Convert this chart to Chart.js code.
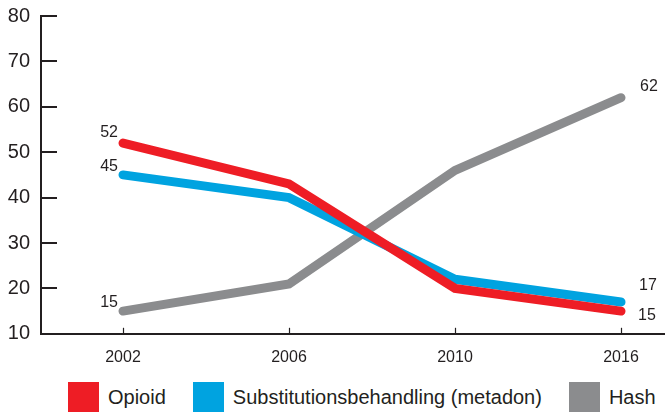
<!DOCTYPE html>
<html>
<head>
<meta charset="utf-8">
<script src="https://cdn.jsdelivr.net/npm/chart.js@4/dist/chart.umd.min.js"></script>
<style>
  html, body { margin: 0; padding: 0; background: #fff; }
  body { width: 665px; height: 412px; position: relative; overflow: hidden; font-family: "Liberation Sans", Arial, sans-serif; }
  #wrap { position: absolute; left: 0; top: 0; width: 665px; height: 381px; }
  #legend { position: absolute; left: 68px; top: 382px; display: flex; align-items: center; height: 30px; white-space: nowrap; width: 640px; }
  .item { display: flex; align-items: center; margin-right: 27px; font-size: 20px; color: #231f20; flex-shrink: 0; }
  .box { width: 31px; height: 30px; margin-right: 9px; }
</style>
</head>
<body>
<div id="wrap"><canvas id="chart"></canvas></div>
<div id="legend"></div>
<script>
const years = ["2002", "2006", "2010", "2016"];
const opioid = [52, 43, 20, 15];
const metadon = [45, 40, 22, 17];
const hash = [15, 21, 46, 62];
const yTicks = [10, 20, 30, 40, 50, 60, 70, 80];

const ink = "#231f20";
const font = "Liberation Sans, Arial, sans-serif";

// where the value labels sit next to first / last point
const labelPos = [
  { first: [-5, -11], last: [17, 4] },
  { first: [-5, -8], last: [18, -16] },
  { first: [-5, -9], last: [19, -11] },
];

function pts(arr) {
  return arr.map((v, i) => ({ x: i, y: v }));
}

const ds = [
  { label: "Opioid", data: pts(opioid), borderColor: "#ee1d25" },
  { label: "Substitutionsbehandling (metadon)", data: pts(metadon), borderColor: "#00a3e0" },
  { label: "Hash", data: pts(hash), borderColor: "#8b8c8e" },
].map((d) => ({
  ...d,
  backgroundColor: d.borderColor,
  borderWidth: 9,
  borderCapStyle: "round",
  borderJoinStyle: "miter",
  pointRadius: 0,
  tension: 0,
  clip: false,
}));

// tick marks drawn inside the plot
const innerTicks = {
  id: "innerTicks",
  afterDatasetsDraw(chart) {
    const c = chart.ctx;
    const xs = chart.scales.x, ys = chart.scales.y;
    c.save();
    c.strokeStyle = ink;
    c.lineWidth = 2;
    yTicks.forEach((t) => {
      const y = Math.round(ys.getPixelForValue(t));
      c.beginPath();
      c.moveTo(xs.left, y);
      c.lineTo(xs.left + 16, y);
      c.stroke();
    });
    c.lineWidth = 1.2;
    years.forEach((_, i) => {
      const x = Math.round(xs.getPixelForValue(i)) + 0.5;
      c.beginPath();
      c.moveTo(x, ys.bottom);
      c.lineTo(x, ys.bottom - 6);
      c.stroke();
    });
    c.restore();
  },
};

const valueLabels = {
  id: "valueLabels",
  afterDatasetsDraw(chart) {
    const c = chart.ctx;
    c.save();
    c.font = "16px " + font;
    c.fillStyle = ink;
    c.textBaseline = "middle";
    chart.data.datasets.forEach((d, i) => {
      const meta = chart.getDatasetMeta(i);
      const p0 = meta.data[0], pn = meta.data[meta.data.length - 1];
      const off = labelPos[i];
      c.textAlign = "right";
      c.fillText(d.data[0].y, p0.x + off.first[0], p0.y + off.first[1]);
      c.textAlign = "left";
      c.fillText(d.data[d.data.length - 1].y, pn.x + off.last[0], pn.y + off.last[1]);
    });
    c.restore();
  },
};

new Chart(document.getElementById("chart"), {
  type: "line",
  data: { datasets: ds },
  options: {
    responsive: true,
    maintainAspectRatio: false,
    animation: false,
    layout: { padding: { left: 0, top: 16, right: 0, bottom: 0 } },
    plugins: { legend: { display: false }, tooltip: { enabled: false } },
    scales: {
      x: {
        type: "linear",
        min: -0.494,
        max: 3.265,
        afterBuildTicks: (s) => { s.ticks = years.map((_, i) => ({ value: i })); },
        grid: { display: false, drawTicks: false },
        border: { display: true, color: ink, width: 2 },
        ticks: {
          callback: (v) => years[v],
          color: ink,
          font: { size: 16, family: font },
          padding: 14,
          maxRotation: 0,
        },
      },
      y: {
        min: 10,
        max: 80,
        afterBuildTicks: (s) => { s.ticks = yTicks.map((v) => ({ value: v })); },
        afterFit: (s) => { s.width = 41; s.paddingTop = 0; },
        grid: { display: false, drawTicks: false },
        border: { display: true, color: ink, width: 2 },
        ticks: {
          color: ink,
          font: { size: 20, family: font },
          padding: 11,
        },
      },
    },
  },
  plugins: [innerTicks, valueLabels],
});

// legend below the chart
const legend = document.getElementById("legend");
ds.forEach((d) => {
  const el = document.createElement("div");
  el.className = "item";
  el.innerHTML = `<div class="box" style="background:${d.borderColor}"></div><span>${d.label}</span>`;
  legend.appendChild(el);
});
</script>
</body>
</html>
